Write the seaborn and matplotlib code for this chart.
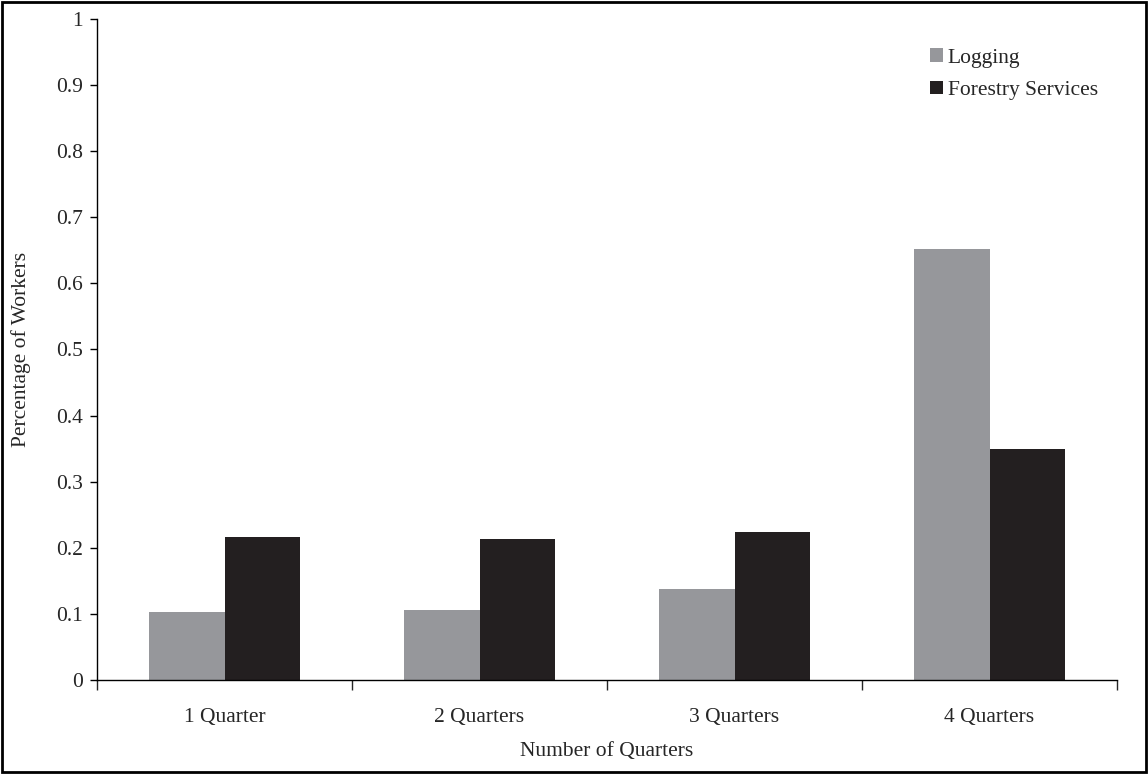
import pandas as pd
import matplotlib.pyplot as plt
import seaborn as sns
from matplotlib.patches import Rectangle

categories = ['1 Quarter', '2 Quarters', '3 Quarters', '4 Quarters']
logging = [0.103, 0.106, 0.138, 0.652]
forestry = [0.216, 0.213, 0.224, 0.349]

df = pd.DataFrame({
    'quarter': categories * 2,
    'value': logging + forestry,
    'series': ['Logging'] * 4 + ['Forestry Services'] * 4,
})

sns.set_style('white')
plt.rcParams['font.family'] = ['Liberation Serif', 'DejaVu Serif']

fig = plt.figure(figsize=(11.48, 7.74), dpi=100)
ax = fig.add_axes([0.0845, 0.1214, 0.8885, 0.8541])
sns.barplot(data=df, x='quarter', y='value', hue='series', order=categories,
            palette={'Logging': '#96979b', 'Forestry Services': '#231f20'},
            width=0.59, gap=0, saturation=1, linewidth=0, ax=ax, legend=True)

ax.set_ylim(0, 1)
ax.set_xlim(-0.5, 3.5)
ax.set_yticks([i / 10 for i in range(11)])
ax.set_yticklabels(['0'] + [f'0.{i}' for i in range(1, 10)] + ['1'], fontsize=15.5)
ax.tick_params(axis='y', direction='out', length=5, width=1, color='black', left=True, pad=5)
ax.tick_params(axis='x', which='major', length=0, labelsize=15.5, pad=20)
ax.set_xticks([-0.5, 0.5, 1.5, 2.5, 3.5], minor=True)
ax.tick_params(axis='x', which='minor', direction='out', length=7, width=1, bottom=True)
for s in ['top', 'right']:
    ax.spines[s].set_visible(False)
for s in ['left', 'bottom']:
    ax.spines[s].set_color('black')
    ax.spines[s].set_linewidth(1)
ax.set_xlabel('Number of Quarters', fontsize=15.5, labelpad=11)
ax.set_ylabel('Percentage of Workers', fontsize=15.5, labelpad=18)

leg = ax.legend(loc='upper right', bbox_to_anchor=(1.0, 0.985), frameon=False,
                fontsize=15.5, handlelength=0.6, handleheight=0.6, handletextpad=0.2,
                labelspacing=0.6)

fig.patches.append(Rectangle((0.002, 0.002), 0.996, 0.996, transform=fig.transFigure,
                             fill=False, edgecolor='black', linewidth=2))

fig.savefig('out.png', dpi=100)
